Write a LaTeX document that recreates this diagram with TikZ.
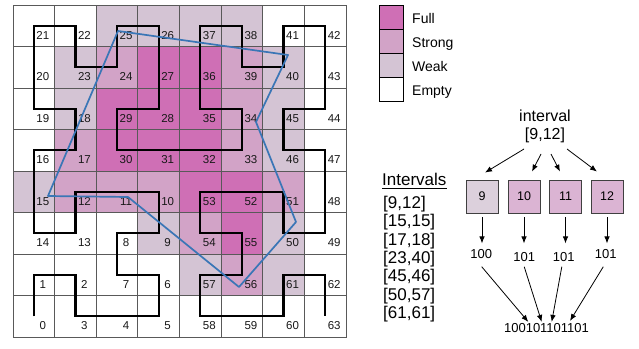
\documentclass[tikz,border=0pt]{standalone}
\usepackage{fontspec}
\setmainfont{Liberation Sans}
\usetikzlibrary{arrows.meta,calc}
\definecolor{cfull}{RGB}{207,111,181}
\definecolor{cstrong}{RGB}{210,163,199}
\definecolor{cweak}{RGB}{212,196,212}
\definecolor{cempty}{RGB}{255,255,255}
\definecolor{bweak}{RGB}{220,208,220}
\definecolor{bstrong}{RGB}{219,180,211}
\definecolor{regionblue}{RGB}{58,118,182}
\begin{document}
\begin{tikzpicture}[x=1pt,y=-1pt,
  cell/.style={draw=black!65,line width=0.8pt,minimum width=41.625pt,minimum height=41.5pt,inner sep=0pt,outer sep=0pt},
  celllab/.style={font=\fontsize{11.5}{13}\selectfont,text=black!90,inner sep=0pt},
  hilb/.style={line width=2.3pt,line join=miter,black},
  region/.style={draw=regionblue,line width=1.7pt,line join=round},
  legbox/.style={draw=black,line width=0.9pt,minimum size=24pt,inner sep=0pt},
  legtext/.style={font=\fontsize{14}{16}\selectfont,anchor=base west,inner sep=0pt},
  ivtext/.style={font=\fontsize{17}{18}\selectfont,anchor=base west,inner sep=0pt},
  ivhead/.style={font=\fontsize{16}{18}\selectfont,anchor=base,inner sep=0pt},
  smallbox/.style={draw=black!75,line width=0.8pt,minimum width=32pt,minimum height=33pt,inner sep=0pt,font=\fontsize{12.5}{14}\selectfont},
  bits/.style={font=\fontsize{13}{15}\selectfont,anchor=base,inner sep=0pt},
  result/.style={font=\fontsize{13}{15}\selectfont,anchor=base,inner sep=0pt},
  arr/.style={-{Latex[length=7pt,width=5.5pt]},line width=0.8pt}
]
\useasboundingbox (0,0) rectangle (639,348);
% grid cells
\foreach \row [count=\r from 0] in {
 {21/cempty,22/cempty,25/cweak,26/cweak,37/cweak,38/cweak,41/cempty,42/cempty},
 {20/cempty,23/cweak,24/cstrong,27/cfull,36/cfull,39/cstrong,40/cweak,43/cempty},
 {19/cempty,18/cweak,29/cfull,28/cfull,35/cfull,34/cstrong,45/cweak,44/cempty},
 {16/cempty,17/cstrong,30/cfull,31/cfull,32/cfull,33/cstrong,46/cweak,47/cempty},
 {15/cweak,12/cstrong,11/cstrong,10/cstrong,53/cfull,52/cfull,51/cstrong,48/cempty},
 {14/cempty,13/cempty,8/cempty,9/cweak,54/cstrong,55/cfull,50/cweak,49/cempty},
 {1/cempty,2/cempty,7/cempty,6/cempty,57/cweak,56/cstrong,61/cweak,62/cempty},
 {0/cempty,3/cempty,4/cempty,5/cempty,58/cempty,59/cempty,60/cempty,63/cempty}}{
  \foreach \n/\f [count=\c from 0] in \row {
    \node[cell,fill=\f] (c\n) at ({13+41.625*(\c+0.5)},{5+41.5*(\r+0.5)}) {};
  }
}
% Hilbert curve
\draw[hilb] (c0.center) \foreach \i in {1,...,63}{ -- (c\i.center)};
% cell labels
\foreach \i in {0,...,63}{
  \node[celllab] (l\i) at ($(c\i.center)+(9,9.5)$) {\i};
}
% query region
\coordinate (p1) at (118,31);
\coordinate (p2) at (288,55);
\coordinate (p3) at (256,122);
\coordinate (p4) at (296,222);
\coordinate (p5) at (239,287);
\coordinate (p6) at (128,197);
\coordinate (p7) at (48,196);
\draw[region] (p1) -- (p2) -- (p3) -- (p4) -- (p5) -- (p6) -- (p7) -- cycle;
% legend
\node[legbox,fill=cfull] (lg1) at (391,17) {};
\node[legbox,fill=cstrong] (lg2) at (391,41) {};
\node[legbox,fill=cweak] (lg3) at (391,65) {};
\node[legbox,fill=cempty] (lg4) at (391,89) {};
\node[legtext] (lt1) at (412,23) {Full};
\node[legtext] (lt2) at (412,47) {Strong};
\node[legtext] (lt3) at (412,71) {Weak};
\node[legtext] (lt4) at (412,95) {Empty};
% interval list
\node[ivtext] (ivh) at (382,185.7) {Intervals};
\draw[line width=1pt] ([yshift=-2.6pt]ivh.base west) -- ([yshift=-2.6pt]ivh.base east);
\node[ivtext] (iv1) at (383,208.5) {[9,12]};
\node[ivtext] (iv2) at (383,226.8) {[15,15]};
\node[ivtext] (iv3) at (383,245.1) {[17,18]};
\node[ivtext] (iv4) at (383,263.4) {[23,40]};
\node[ivtext] (iv5) at (383,281.7) {[45,46]};
\node[ivtext] (iv6) at (383,300) {[50,57]};
\node[ivtext] (iv7) at (383,318.3) {[61,61]};
% interval decomposition
\node[ivhead] (ivword) at (545,121) {interval};
\node[ivhead] (ivnum) at (545,139) {[9,12]};
\node[smallbox,fill=bweak] (b9) at (482,196.5) {9};
\node[smallbox,fill=bstrong] (b10) at (524,196.5) {10};
\node[smallbox,fill=bstrong] (b11) at (565.5,196.5) {11};
\node[smallbox,fill=bstrong] (b12) at (607,196.5) {12};
\draw[arr] ($(ivnum.base)+(-21,10)$) -- ($(b9.north)+(3,-7)$);
\draw[arr] ($(ivnum.base)+(-4,15)$) -- ($(b10.north)+(8,-8)$);
\draw[arr] ($(ivnum.base)+(6,15)$) -- ($(b11.north)+(-5.5,-8)$);
\draw[arr] ($(ivnum.base)+(22,10)$) -- ($(b12.north)+(-10,-8)$);
\node[bits] (v9) at (481.2,258) {100};
\node[bits] (v10) at (524.2,261.5) {101};
\node[bits] (v11) at (563.8,261.5) {101};
\node[bits] (v12) at (605.8,258) {101};
\draw[arr] ($(b9.south)+(0,4)$) -- ($(b9.south)+(0,30)$);
\draw[arr] ($(b10.south)+(0,4)$) -- ($(b10.south)+(0,30)$);
\draw[arr] ($(b11.south)+(0,4)$) -- ($(b11.south)+(0,30)$);
\draw[arr] ($(b12.south)+(0,4)$) -- ($(b12.south)+(0,30)$);
\node[result] (res) at (546.5,332.7) {100101101101};
\draw[arr] ($(v9.base)+(0.5,8.7)$) -- ($(res.north)+(-18.2,-1.5)$);
\draw[arr] ($(v10.base)+(0,5.2)$) -- ($(res.north)+(-4.8,-1.5)$);
\draw[arr] ($(v11.base)+(-2,5.2)$) -- ($(res.north)+(5.2,-1.5)$);
\draw[arr] ($(v12.base)+(-2.5,8.7)$) -- ($(res.north)+(23.5,-2.5)$);
\end{tikzpicture}
\end{document}
